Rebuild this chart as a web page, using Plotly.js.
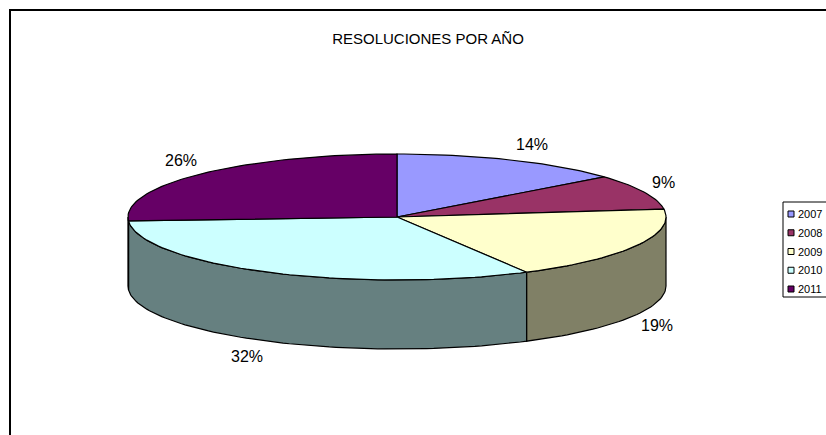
<!DOCTYPE html>
<html>
<head>
<meta charset="utf-8">
<script src="https://cdn.plot.ly/plotly-3.0.1.min.js"></script>
<style>html,body{margin:0;padding:0;background:#fff;}#chart{width:826px;height:435px;}</style>
</head>
<body>
<div id="chart"></div>
<script>
// ---- data ----
const years = ['2007', '2008', '2009', '2010', '2011'];
const percents = [14, 9, 19, 32, 26];
const topColors = ['#9999FF', '#993366', '#FFFFCC', '#CCFFFF', '#660066'];
const sideColors = ['#4D4D80', '#4D1A33', '#808066', '#668080', '#330033'];
const chartTitle = 'RESOLUCIONES POR AÑO';

// ---- geometry (pixel-space axes) ----
const W = 826, H = 435;
const cx = 397, cy = 217, rx = 269, ry = 63, depth = 69;
const deg = Math.PI / 180;
function pt(a, dy) { return [cx + rx * Math.sin(a * deg), cy - ry * Math.cos(a * deg) + (dy || 0)]; }
const FONT = 'Liberation Sans, Arial, sans-serif';

const total = percents.reduce((s, v) => s + v, 0);
const traces = [];
const starts = [], ends = [];
let acc = 0;
percents.forEach(v => { starts.push(acc / total * 360); acc += v; ends.push(acc / total * 360); });

// side faces (front half: angles 90..270)
percents.forEach((v, i) => {
  const a0 = Math.max(starts[i], 90), a1 = Math.min(ends[i], 270);
  if (a1 <= a0) return;
  const xs = [], ys = [];
  const n = Math.max(4, Math.ceil((a1 - a0) / 1.5));
  for (let k = 0; k <= n; k++) { const p = pt(a0 + (a1 - a0) * k / n); xs.push(p[0]); ys.push(p[1]); }
  for (let k = n; k >= 0; k--) { const p = pt(a0 + (a1 - a0) * k / n, depth); xs.push(p[0]); ys.push(p[1]); }
  xs.push(xs[0]); ys.push(ys[0]);
  traces.push({ type: 'scatter', mode: 'lines', x: xs, y: ys, fill: 'toself', fillcolor: sideColors[i],
    line: { color: '#000', width: 1.2 }, hoverinfo: 'skip', showlegend: false });
});

// top faces
percents.forEach((v, i) => {
  const a0 = starts[i], a1 = ends[i];
  const xs = [cx], ys = [cy];
  const n = Math.max(4, Math.ceil((a1 - a0) / 1.5));
  for (let k = 0; k <= n; k++) { const p = pt(a0 + (a1 - a0) * k / n); xs.push(p[0]); ys.push(p[1]); }
  xs.push(cx); ys.push(cy);
  traces.push({ type: 'scatter', mode: 'lines', x: xs, y: ys, fill: 'toself', fillcolor: topColors[i],
    line: { color: '#000', width: 1.2 }, name: years[i], hoverinfo: 'name', showlegend: false });
});

// percentage labels
const annotations = [];
percents.forEach((v, i) => {
  const mid = (starts[i] + ends[i]) / 2;
  const s = Math.sin(mid * deg), c = Math.cos(mid * deg);
  const front = c < 0;
  const p = pt(mid, front ? depth : 0);
  annotations.push({ x: p[0] + 20 * Math.sign(s), y: p[1] - (12 * c + 5 * Math.sign(c)),
    xref: 'x', yref: 'y', text: Math.round(v / total * 100) + '%', showarrow: false,
    xanchor: 'center', yanchor: 'middle',
    font: { family: FONT, size: 16, color: '#000' } });
});

// legend (custom, Excel style)
const legX = 783, legY = 202, legH = 95, legRow = 18.75, legFirst = 12;
traces.push({ type: 'scatter', mode: 'markers', x: years.map(() => legX + 8), y: years.map((_, i) => legY + legFirst + legRow * i),
  marker: { symbol: 'square', size: 6, color: topColors, line: { color: '#000', width: 1 } },
  hoverinfo: 'skip', showlegend: false, cliponaxis: false });
years.forEach((yr, i) => {
  annotations.push({ x: legX + 13, y: legY + legFirst + legRow * i, xref: 'x', yref: 'y', text: yr, showarrow: false,
    xanchor: 'left', yanchor: 'middle', font: { family: FONT, size: 11, color: '#000' } });
});

const layout = {
  width: W, height: H,
  margin: { l: 0, r: 0, t: 0, b: 0 },
  paper_bgcolor: '#fff', plot_bgcolor: '#fff',
  showlegend: false,
  title: { text: chartTitle, x: 428 / W, xanchor: 'center', y: 1 - 39 / H, yanchor: 'middle',
    font: { family: FONT, size: 15, color: '#000' } },
  xaxis: { range: [0, W], visible: false, fixedrange: true },
  yaxis: { range: [H, 0], visible: false, fixedrange: true },
  annotations: annotations,
  shapes: [
    { type: 'rect', xref: 'x', yref: 'y', x0: 10, y0: 10, x1: W + 10, y1: H + 10, line: { color: '#000', width: 2 }, layer: 'below' },
    { type: 'rect', xref: 'x', yref: 'y', x0: legX, y0: legY, x1: W + 20, y1: legY + legH, line: { color: '#000', width: 1 }, fillcolor: '#fff', layer: 'below' }
  ]
};

Plotly.newPlot('chart', traces, layout, { displayModeBar: false, staticPlot: true });
</script>
</body>
</html>
